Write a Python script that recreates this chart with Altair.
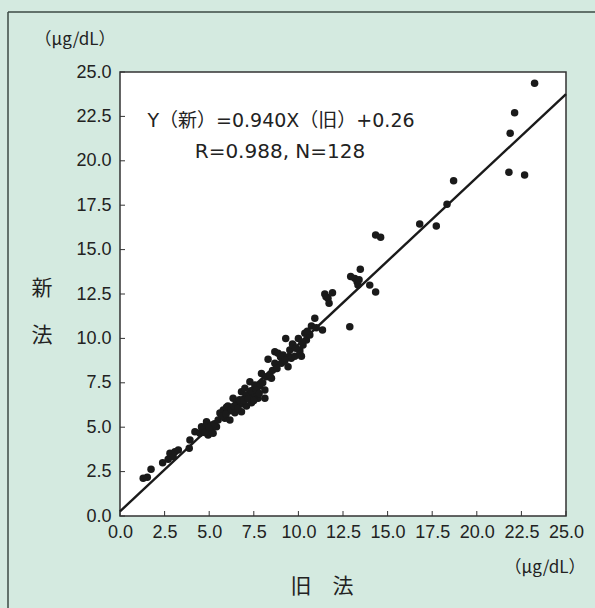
import altair as alt
import pandas as pd

# Old method (旧法) vs new method (新法), µg/dL
old_method = [
    1.30, 1.53, 1.74, 2.39, 2.70, 2.80, 2.98, 3.08, 3.27, 3.88, 3.92, 4.20,
    4.48, 4.57, 4.66, 4.85, 4.85, 4.94, 5.04, 5.13, 5.13, 5.22, 5.41, 5.69,
    5.79, 5.88, 5.97, 6.16, 6.16, 6.34, 6.44, 6.53, 6.81, 6.81, 6.81, 7.09,
    7.09, 7.28, 7.37, 7.46, 7.56, 7.74, 7.84, 7.93, 8.12, 8.12, 8.21, 8.30,
    8.49, 8.68, 8.68, 8.86, 9.05, 9.14, 9.29, 9.42, 9.52, 9.52, 9.60, 9.67,
    9.70, 9.80, 10.08, 10.08, 10.17, 10.26, 10.36, 10.45, 10.64, 10.73, 10.92, 11.35,
    11.48, 11.66, 11.72, 11.91, 12.88, 12.93, 13.16, 13.29, 13.34, 13.47, 14.00, 14.33,
    14.33, 14.61, 16.80, 17.73, 18.33, 18.70, 21.80, 22.68, 21.87, 22.12, 23.24,
    4.60, 4.75, 5.00, 5.30, 5.50, 5.60, 5.75, 5.95, 6.05, 6.25, 6.40, 6.60,
    6.70, 6.95, 7.00, 7.20, 7.35, 7.50, 7.65, 7.80, 8.00, 8.40, 8.55, 8.80,
    9.00, 9.25, 9.85, 10.00, 10.50, 11.00, 10.20, 13.40, 11.55,
]
new_method = [
    2.12, 2.18, 2.63, 3.00, 3.19, 3.53, 3.34, 3.62, 3.72, 3.81, 4.28, 4.75,
    4.66, 5.03, 4.84, 5.12, 5.31, 4.56, 4.75, 5.12, 4.94, 4.66, 5.03, 5.63,
    5.97, 5.50, 6.12, 5.93, 5.41, 6.63, 5.82, 6.38, 7.00, 6.31, 5.87, 6.81,
    6.19, 7.56, 6.38, 6.87, 7.38, 6.63, 7.32, 8.03, 7.09, 6.63, 7.84, 8.82,
    7.75, 8.60, 9.25, 9.16, 8.60, 9.07, 10.00, 8.41, 8.97, 9.35, 8.88, 9.68,
    9.63, 9.00, 9.35, 9.16, 9.00, 9.63, 10.29, 9.91, 10.19, 10.70, 11.13, 10.47,
    12.50, 12.26, 11.98, 12.57, 10.66, 13.48, 13.38, 13.19, 13.00, 13.89, 13.00, 12.61,
    15.82, 15.69, 16.44, 16.33, 17.55, 18.88, 19.35, 19.20, 21.55, 22.71, 24.36,
    4.90, 4.70, 5.00, 5.20, 5.40, 5.80, 5.65, 5.75, 6.20, 6.00, 6.20, 6.05,
    6.55, 6.50, 7.20, 6.60, 7.05, 6.50, 7.10, 6.90, 7.50, 7.95, 8.20, 8.30,
    8.95, 8.75, 9.45, 10.00, 10.40, 10.60, 9.80, 13.30, 12.35,
]

# Regression: Y(新) = 0.940 X(旧) + 0.26
slope = 0.940
intercept = 0.26
line_x = [0.0, 25.0]

tick_values = [0.0, 2.5, 5.0, 7.5, 10.0, 12.5, 15.0, 17.5, 20.0, 22.5, 25.0]

FONT = "Liberation Sans, Noto Sans CJK JP"
EQ_FONT = "DejaVu Sans, Noto Sans CJK JP"
CJK = "Noto Sans CJK JP"
INK = "#222222"
BG = "#d4eae0"

W, H = 446, 444

pts = pd.DataFrame({"old": old_method, "new": new_method})
reg = pd.DataFrame({"old": line_x, "new": [slope * v + intercept for v in line_x]})
ticks = pd.DataFrame({"t": tick_values})

xs = alt.Scale(domain=[0, 25], nice=False, zero=False)
ys = alt.Scale(domain=[0, 25], nice=False, zero=False)

axis_common = dict(
    values=tick_values, format=".1f", labelFont=FONT, labelFontSize=18,
    labelColor=INK, tickSize=0, domain=False, grid=False, title=None,
    labelFlush=False,
)

points = alt.Chart(pts).mark_circle(size=56, color="#1a1a1a", opacity=1).encode(
    x=alt.X("old:Q", scale=xs, axis=alt.Axis(labelPadding=7, **axis_common)),
    y=alt.Y("new:Q", scale=ys, axis=alt.Axis(labelPadding=9, **axis_common)),
)

line = alt.Chart(reg).mark_line(color="#1a1a1a", strokeWidth=2.4).encode(
    x=alt.X("old:Q", scale=xs),
    y=alt.Y("new:Q", scale=ys),
)

# inward tick marks on both axes
xticks = alt.Chart(ticks).mark_rule(color="#333333", strokeWidth=1).encode(
    x=alt.X("t:Q", scale=xs),
    y=alt.value(H),
    y2=alt.value(H - 5),
)
yticks = alt.Chart(ticks).mark_rule(color="#333333", strokeWidth=1).encode(
    y=alt.Y("t:Q", scale=ys),
    x=alt.value(0),
    x2=alt.value(5),
)

def label(text, x, y, size, font=FONT, align="center"):
    return alt.Chart(pd.DataFrame({"s": [text]})).mark_text(
        font=font, fontSize=size, color=INK, align=align, baseline="middle"
    ).encode(text="s:N", x=alt.value(x), y=alt.value(y))

eq1 = label("Y（新）=0.940X（旧）+0.26", 161, 49, 19, EQ_FONT)
eq2 = label("R=0.988, N=128", 160, 80, 20, EQ_FONT)
unit_y = label("（μg/dL）", -45, -32, 17, CJK)
unit_x = label("（μg/dL）", 425, 496, 17, CJK)
title_x = label("旧　法", 202, 515, 21, CJK)
title_y1 = label("新", -78, 217, 21, CJK)
title_y2 = label("法", -78, 264, 21, CJK)

# outer panel border: left and top edges
frame_left = alt.Chart(pd.DataFrame({"a": [0]})).mark_rule(
    color="#3c4a45", strokeWidth=1.5
).encode(x=alt.value(-112), y=alt.value(-60), y2=alt.value(540))
frame_top = alt.Chart(pd.DataFrame({"a": [0]})).mark_rule(
    color="#3c4a45", strokeWidth=1.5
).encode(x=alt.value(-112), x2=alt.value(480), y=alt.value(-60))

chart = alt.layer(
    frame_left, frame_top, yticks, xticks, line, points,
    eq1, eq2, unit_y, unit_x, title_x, title_y1, title_y2,
).properties(
    width=W, height=H,
    autosize=alt.AutoSizeParams(type="none"),
    padding={"left": 120, "top": 72, "right": 29, "bottom": 92},
    background=BG,
).configure_view(
    fill="white", stroke="#333333", strokeWidth=1.5
)

chart.save("out.html", embed_options={"renderer": "svg", "actions": False})
